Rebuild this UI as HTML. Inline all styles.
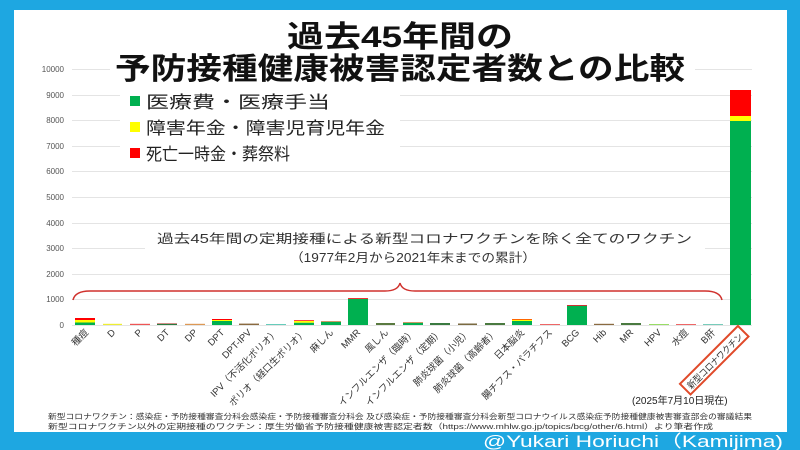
<!DOCTYPE html>
<html><head><meta charset="utf-8"><style>
body{margin:0;width:800px;height:450px;overflow:hidden;background:#1ea7e1;font-family:"Liberation Sans","Noto Sans CJK JP",sans-serif}
</style></head><body>
<svg width="800" height="450" xmlns="http://www.w3.org/2000/svg" style="position:absolute;left:0;top:0;font-family:'Liberation Sans','Noto Sans CJK JP',sans-serif">
<rect x="0" y="0" width="800" height="450" fill="#1ea7e1"/>
<rect x="14" y="10" width="773" height="422" fill="#fff"/>
<g stroke="#e4e4e4" stroke-width="1">
<line x1="72" y1="69.5" x2="752" y2="69.5"/><line x1="72" y1="95.5" x2="752" y2="95.5"/><line x1="72" y1="120.5" x2="752" y2="120.5"/><line x1="72" y1="146.5" x2="752" y2="146.5"/><line x1="72" y1="171.5" x2="752" y2="171.5"/><line x1="72" y1="197.5" x2="752" y2="197.5"/><line x1="72" y1="223.5" x2="752" y2="223.5"/><line x1="72" y1="248.5" x2="752" y2="248.5"/><line x1="72" y1="274.5" x2="752" y2="274.5"/><line x1="72" y1="299.5" x2="752" y2="299.5"/><line x1="72" y1="325.5" x2="752" y2="325.5"/>
</g>
<g font-size="8" fill="#555" text-anchor="end">
<text x="64" y="72">10000</text><text x="64" y="98">9000</text><text x="64" y="123">8000</text><text x="64" y="149">7000</text><text x="64" y="174">6000</text><text x="64" y="200">5000</text><text x="64" y="226">4000</text><text x="64" y="251">3000</text><text x="64" y="277">2000</text><text x="64" y="302">1000</text><text x="64" y="328">0</text>
</g>
<rect x="110" y="14" width="585" height="70" fill="#fff"/>
<rect x="120" y="86" width="280" height="80" fill="#fff"/>
<g font-weight="bold" font-size="30" fill="#111">
<text x="287" y="47" textLength="226" lengthAdjust="spacingAndGlyphs">過去45年間の</text>
<text x="115" y="79" textLength="570" lengthAdjust="spacingAndGlyphs">予防接種健康被害認定者数との比較</text>
</g>
<g font-size="17" fill="#222">
<rect x="130" y="96" width="10" height="10" fill="#00b050"/><text x="146" y="108" textLength="184" lengthAdjust="spacingAndGlyphs">医療費・医療手当</text>
<rect x="130" y="122" width="10" height="10" fill="#ffff00"/><text x="146" y="134" textLength="239" lengthAdjust="spacingAndGlyphs">障害年金・障害児育児年金</text>
<rect x="130" y="148" width="10" height="10" fill="#ff0000"/><text x="146" y="160" textLength="144" lengthAdjust="spacingAndGlyphs">死亡一時金・葬祭料</text>
</g>
<rect x="145" y="226" width="560" height="42" fill="#fff"/>
<g font-size="12.5" fill="#333">
<text x="157" y="243" textLength="535" lengthAdjust="spacingAndGlyphs">過去45年間の定期接種による新型コロナワクチンを除く全てのワクチン</text>
<text x="290" y="262" textLength="246" lengthAdjust="spacingAndGlyphs">（1977年2月から2021年末までの累計）</text>
</g>
<path d="M73,300 Q75,291 90,291 L385,291 Q398,291 400,283 Q402,291 415,291 L705,291 Q720,291 722,300" fill="none" stroke="#d0312d" stroke-width="1.5"/>
<g>
<rect x="75" y="318" width="20" height="2" fill="#f00"/><rect x="75" y="320" width="20" height="2.5" fill="#ff0"/><rect x="75" y="322.5" width="20" height="2.5" fill="#00b050"/>
<rect x="103" y="323.8" width="19" height="1.2" fill="#ee3"/>
<rect x="130" y="323.8" width="20" height="1.2" fill="#e55"/>
<rect x="157" y="323.3" width="20" height="0.6" fill="#c44"/><rect x="157" y="323.9" width="20" height="1.1" fill="#2a7a40"/>
<rect x="185" y="323.8" width="20" height="1.2" fill="#d95"/>
<rect x="212" y="319" width="20" height="1" fill="#f00"/><rect x="212" y="320" width="20" height="1" fill="#ff0"/><rect x="212" y="321" width="20" height="4" fill="#00b050"/>
<rect x="239" y="323.6" width="20" height="1.4" fill="#8a6a40"/>
<rect x="266" y="324" width="20" height="1" fill="#6cb"/>
<rect x="294" y="320" width="20" height="1" fill="#f44"/><rect x="294" y="321" width="20" height="1.8" fill="#ff0"/><rect x="294" y="322.8" width="20" height="2.2" fill="#00b050"/>
<rect x="321" y="321" width="20" height="1" fill="#c96"/><rect x="321" y="322" width="20" height="3" fill="#00b050"/>
<rect x="348" y="298" width="20" height="1" fill="#e33"/><rect x="348" y="299" width="20" height="26" fill="#00b050"/>
<rect x="376" y="323" width="19" height="2" fill="#5a7a40"/>
<rect x="403" y="322" width="20" height="1" fill="#c96"/><rect x="403" y="323" width="20" height="2" fill="#00b050"/>
<rect x="430" y="323" width="20" height="2" fill="#3a7a40"/>
<rect x="458" y="323.5" width="19" height="1.5" fill="#7a6a40"/>
<rect x="485" y="323" width="20" height="2" fill="#4a7a40"/>
<rect x="512" y="319" width="20" height="1" fill="#f60"/><rect x="512" y="320" width="20" height="1" fill="#ff0"/><rect x="512" y="321" width="20" height="4" fill="#00b050"/>
<rect x="540" y="324" width="20" height="1" fill="#e66"/>
<rect x="567" y="305" width="20" height="1" fill="#c33"/><rect x="567" y="306" width="20" height="19" fill="#00b050"/>
<rect x="594" y="323.8" width="20" height="1.2" fill="#8a6a40"/>
<rect x="621" y="323" width="20" height="2" fill="#4a7a40"/>
<rect x="649" y="324" width="20" height="1" fill="#9d6"/>
<rect x="676" y="324" width="20" height="1" fill="#e66"/>
<rect x="703" y="324" width="20" height="1" fill="#7cb"/>
<rect x="730" y="90" width="21" height="26" fill="#f00"/><rect x="730" y="116" width="21" height="5" fill="#ff0"/><rect x="730" y="121" width="21" height="204" fill="#00b050"/>
</g>
<g font-size="9.5" fill="#333" text-anchor="end">
<text transform="translate(89,333) rotate(-45)">種痘</text>
<text transform="translate(116,333) rotate(-45)">D</text>
<text transform="translate(143,333) rotate(-45)">P</text>
<text transform="translate(170,333) rotate(-45)">DT</text>
<text transform="translate(198,333) rotate(-45)">DP</text>
<text transform="translate(225,333) rotate(-45)">DPT</text>
<text transform="translate(252,333) rotate(-45)">DPT-IPV</text>
<text transform="translate(279,333) rotate(-45)">IPV（不活化ポリオ）</text>
<text transform="translate(307,333) rotate(-45)">ポリオ（経口生ポリオ）</text>
<text transform="translate(334,333) rotate(-45)">麻しん</text>
<text transform="translate(361,333) rotate(-45)">MMR</text>
<text transform="translate(389,333) rotate(-45)">風しん</text>
<text transform="translate(416,333) rotate(-45)">インフルエンザ（臨時）</text>
<text transform="translate(443,333) rotate(-45)">インフルエンザ（定期）</text>
<text transform="translate(471,333) rotate(-45)">肺炎球菌（小児）</text>
<text transform="translate(498,333) rotate(-45)">肺炎球菌（高齢者）</text>
<text transform="translate(525,333) rotate(-45)">日本脳炎</text>
<text transform="translate(553,333) rotate(-45)">腸チフス・パラチフス</text>
<text transform="translate(580,333) rotate(-45)">BCG</text>
<text transform="translate(607,333) rotate(-45)">Hib</text>
<text transform="translate(634,333) rotate(-45)">MR</text>
<text transform="translate(662,333) rotate(-45)">HPV</text>
<text transform="translate(689,333) rotate(-45)">水痘</text>
<text transform="translate(716,333) rotate(-45)">B肝</text>
</g>
<g transform="translate(745,333) rotate(-45)">
<rect x="-82" y="-10" width="82" height="15" fill="none" stroke="#e04a2a" stroke-width="2"/>
<text x="-4" y="2" font-size="9.5" fill="#333" text-anchor="end" textLength="74" lengthAdjust="spacingAndGlyphs">新型コロナワクチン</text>
</g>
<text x="632" y="404" font-size="10" fill="#222">(2025年7月10日現在)</text>
<g font-size="7.5" fill="#333">
<text x="48" y="419" textLength="704" lengthAdjust="spacingAndGlyphs">新型コロナワクチン：感染症・予防接種審査分科会感染症・予防接種審査分科会 及び感染症・予防接種審査分科会新型コロナウイルス感染症予防接種健康被害審査部会の審議結果</text>
<text x="48" y="429" textLength="665" lengthAdjust="spacingAndGlyphs">新型コロナワクチン以外の定期接種のワクチン：厚生労働省予防接種健康被害認定者数（https://www.mhlw.go.jp/topics/bcg/other/6.html）より筆者作成</text>
</g>
<text x="483" y="447" font-size="17" fill="#fff" textLength="300" lengthAdjust="spacingAndGlyphs">@Yukari Horiuchi（Kamijima)</text>
</svg>
</body></html>
